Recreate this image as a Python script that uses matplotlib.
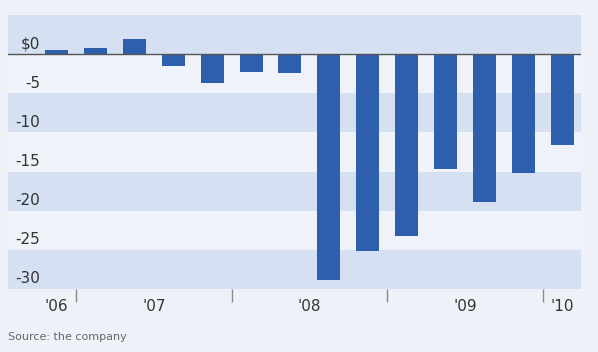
import matplotlib
matplotlib.use("Agg")
import matplotlib.pyplot as plt
import matplotlib.transforms as mtransforms

# quarterly net income, $ billions
quarters = list(range(14))
income = [0.5, 0.8, 1.9, -1.5, -3.7, -2.3, -2.4,
          -28.8, -25.2, -23.2, -14.7, -18.9, -15.2, -11.6]

year_labels = ["'06", "'07", "'08", "'09", "'10"]
year_centers = [0, 2.5, 6.5, 10.5, 13]
year_breaks = [0.5, 4.5, 8.5, 12.5]

y_values = [0, -5, -10, -15, -20, -25, -30]
y_labels = ["$0", "-5", "-10", "-15", "-20", "-25", "-30"]

bg = "#eef2f8"
band_blue = "#d5e1f2"
band_light = "#eff3f9"
bar_color = "#2e5fad"
text_color = "#333333"

plt.rcParams["font.family"] = ["DejaVu Sans"]

fig = plt.figure(figsize=(5.98, 3.52), dpi=100, facecolor=bg)
W, H = 598, 352
ax = fig.add_axes([8 / W, 1 - 289 / H, (581 - 8) / W, (289 - 15) / H])
ax.set_facecolor(band_light)

ax.set_xlim(-1.247, 13.48)
ax.set_ylim(-30, 5)

# alternating horizontal bands
for lo in range(-30, 5, 10):
    ax.axhspan(lo, lo + 5, color=band_blue, lw=0, zorder=0)

ax.bar(quarters, income, width=0.59, color=bar_color, zorder=2)
ax.axhline(0, color="#555555", lw=1.0, zorder=3)

for s in ax.spines.values():
    s.set_visible(False)

# y labels sit just above their value line
ax.set_yticks([])
trans_y = mtransforms.blended_transform_factory(fig.transFigure, ax.transData)
for v, lab in zip(y_values, y_labels):
    ax.text(40 / W, v + 1.3, lab, transform=trans_y, ha="right", va="center",
            fontsize=11, color=text_color, zorder=4)

# year labels centred on each year, tick marks at year boundaries
ax.set_xticks(year_centers)
ax.set_xticklabels(year_labels, fontsize=11, color=text_color)
ax.tick_params(axis="x", which="major", length=0, pad=7.5)
ax.set_xticks(year_breaks, minor=True)
ax.tick_params(axis="x", which="minor", length=9.5, width=1.0,
               color="#8a8a8a", direction="out")

fig.text(8 / W, 1 - 337 / H, "Source: the company", fontsize=8,
         color="#666666", ha="left", va="center")

fig.savefig("out.png", dpi=100, facecolor=bg)
